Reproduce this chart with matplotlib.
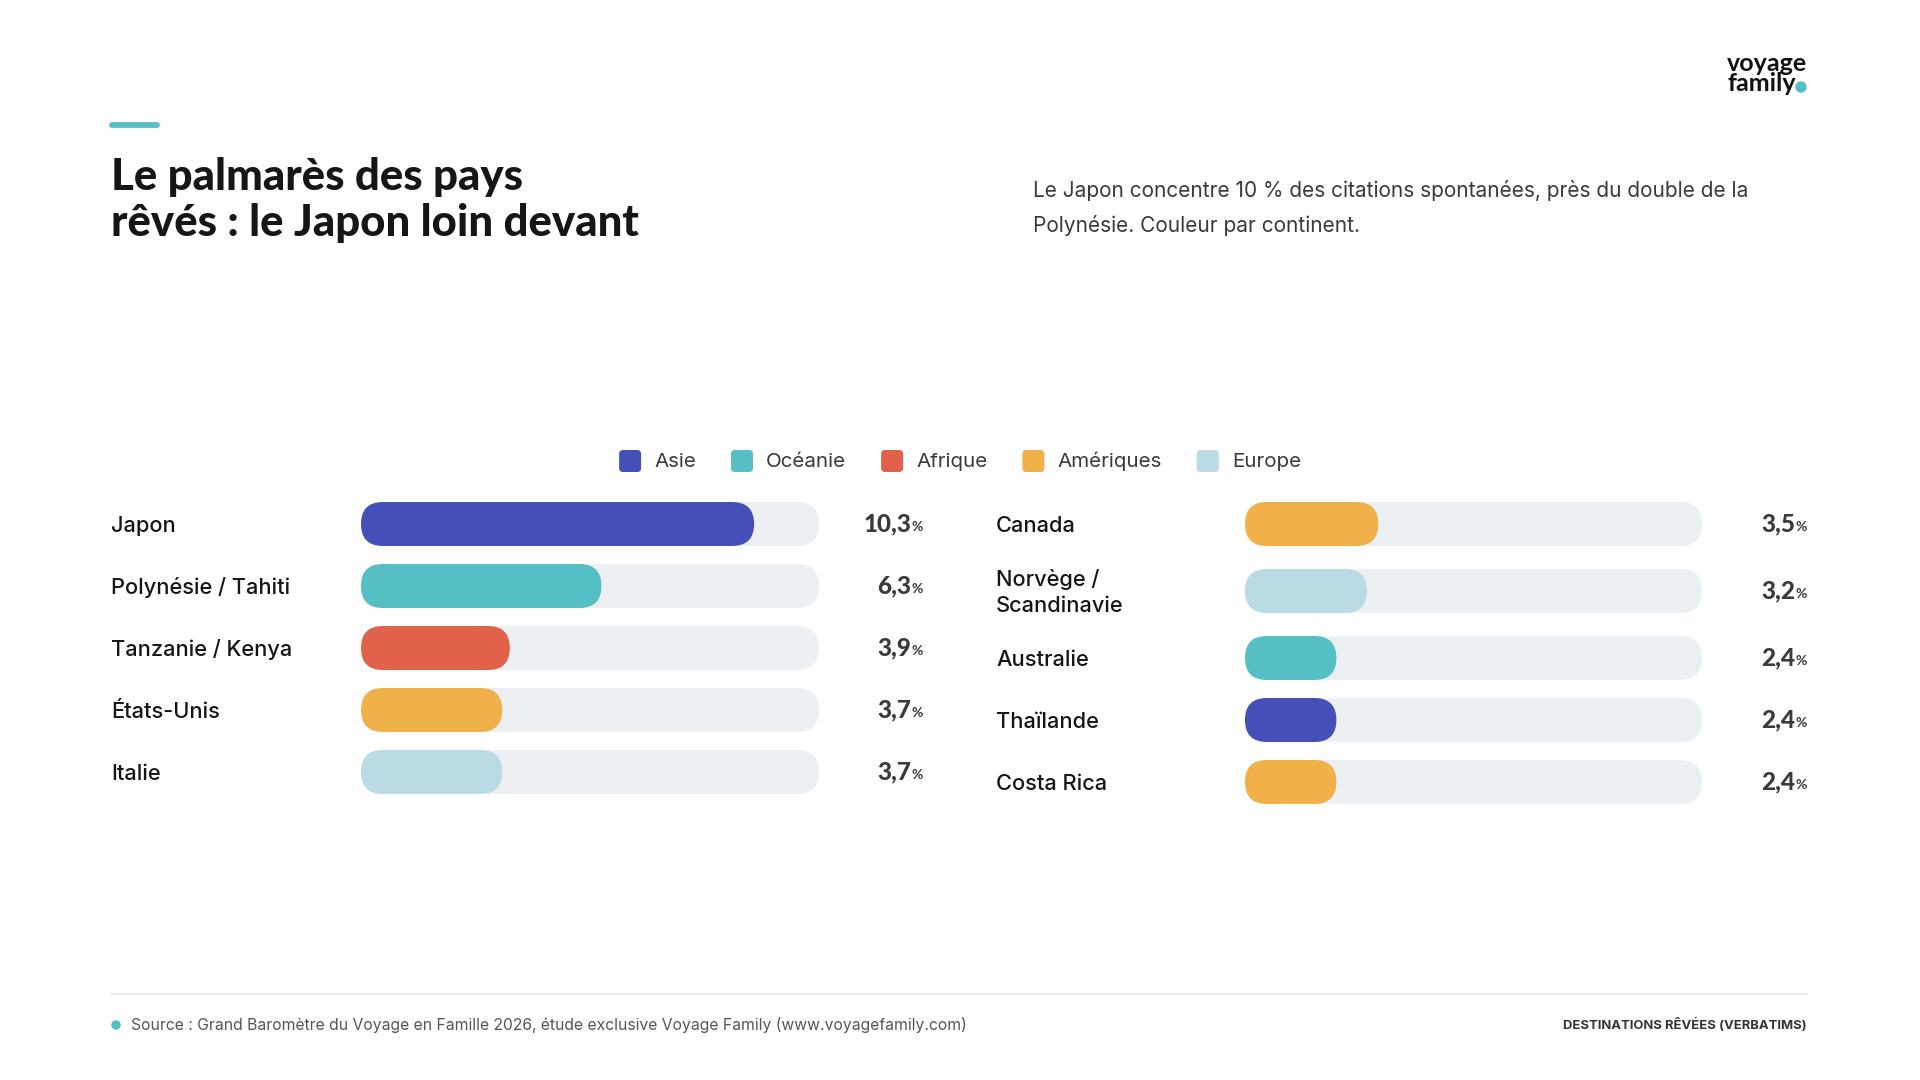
import matplotlib
matplotlib.use("Agg")
import matplotlib.pyplot as plt
from matplotlib.patches import FancyBboxPatch, Circle

# ---------------- data ----------------
continents = ["Asie", "Océanie", "Afrique", "Amériques", "Europe"]
continent_colors = ["#4450b7", "#55bfc5", "#e2614a", "#f0b04a", "#badbe3"]

left_countries = ["Japon", "Polynésie / Tahiti", "Tanzanie / Kenya", "États-Unis", "Italie"]
left_values = [10.3, 6.3, 3.9, 3.7, 3.7]
left_continents = ["Asie", "Océanie", "Afrique", "Amériques", "Europe"]

right_countries = ["Canada", "Norvège /\nScandinavie", "Australie", "Thaïlande", "Costa Rica"]
right_values = [3.5, 3.2, 2.4, 2.4, 2.4]
right_continents = ["Amériques", "Europe", "Océanie", "Asie", "Amériques"]

scale_max = 12.0

title = "Le palmarès des pays\nrêvés : le Japon loin devant"
subtitle = ("Le Japon concentre 10 % des citations spontanées, près du double de la\n"
            "Polynésie. Couleur par continent.")
source = "Source : Grand Baromètre du Voyage en Famille 2026, étude exclusive Voyage Family (www.voyagefamily.com)"
footer_right = "DESTINATIONS RÊVÉES (VERBATIMS)"

# ---------------- style ----------------
FONT = "Lato"
BODY = ["Inter", "DejaVu Sans"]
plt.rcParams["font.family"] = [FONT, "DejaVu Sans"]
W, H = 1920, 1080
TEAL = "#55bfc5"
TRACK = "#edf0f3"
DARK = "#161616"
GREY = "#3a3a3a"

fig = plt.figure(figsize=(W / 100, H / 100), dpi=100)
fig.patch.set_facecolor("white")
ax = fig.add_axes([0, 0, 1, 1])
ax.set_xlim(0, W)
ax.set_ylim(H, 0)
ax.axis("off")

# accent line
ax.plot([112, 157], [124.5, 124.5], color=TEAL, lw=4.2, solid_capstyle="round")

# title
for i, line in enumerate(title.split("\n")):
    ax.text(111, 190 + i * 46, line, fontsize=31.5, fontweight="black",
            color=DARK, ha="left", va="baseline")

# subtitle
for i, line in enumerate(subtitle.split("\n")):
    ax.text(1033, 197 + i * 35, line, fontsize=15, color=GREY, family=BODY,
            ha="left", va="baseline")

# logo
ax.text(1727, 71, "voyage", fontsize=18, fontweight="bold", color="#111111",
        ha="left", va="baseline")
ax.text(1727, 91, "family", fontsize=18, fontweight="bold", color="#111111",
        ha="left", va="baseline")
ax.add_patch(Circle((1801, 87), 5, color=TEAL, zorder=3))

# legend (centred on figure)
fig.canvas.draw()
renderer = fig.canvas.get_renderer()
sq, gap_txt, gap_item = 22, 13, 35
leg_fs = 14.8
widths = []
for name in continents:
    t = ax.text(0, 0, name, fontsize=leg_fs, family=BODY)
    widths.append(t.get_window_extent(renderer).width)
    t.remove()
total = sum(sq + gap_txt + w for w in widths) + gap_item * (len(continents) - 1)
x = W / 2 - total / 2
leg_y = 461
for name, col, w in zip(continents, continent_colors, widths):
    ax.add_patch(FancyBboxPatch((x, leg_y - sq / 2), sq, sq,
                                boxstyle="round,pad=0,rounding_size=4",
                                facecolor=col, edgecolor="none"))
    ax.text(x + sq + gap_txt, leg_y + 6, name, fontsize=leg_fs, color=GREY,
            family=BODY, ha="left", va="baseline")
    x += sq + gap_txt + w + gap_item

# bar columns
bar_h = 44
line_h = 27
row_gap = 18
first_center = 524


def row_centers(labels):
    centers = []
    y = first_center
    prev_h = None
    for lab in labels:
        h = max(bar_h, line_h * len(lab.split("\n")))
        if prev_h is not None:
            y += prev_h / 2 + row_gap + h / 2
        centers.append(y)
        prev_h = h
    return centers


def draw_column(labels, values, conts, label_x, track_l, track_r, value_r):
    track_w = track_r - track_l
    bax = fig.add_axes([track_l / W, 0, track_w / W, 1])
    bax.set_xlim(0, scale_max)
    bax.set_ylim(H, 0)
    bax.axis("off")
    aspect = track_w / scale_max
    r = (bar_h / 2) / aspect
    style = f"round,pad=0,rounding_size={r}"
    centers = row_centers(labels)
    for lab, v, c, yc in zip(labels, values, conts, centers):
        col = continent_colors[continents.index(c)]
        bax.add_patch(FancyBboxPatch((0, yc - bar_h / 2), scale_max, bar_h,
                                     boxstyle=style, mutation_aspect=aspect,
                                     facecolor=TRACK, edgecolor="none"))
        bax.add_patch(FancyBboxPatch((0, yc - bar_h / 2), v, bar_h,
                                     boxstyle=style, mutation_aspect=aspect,
                                     facecolor=col, edgecolor="none", zorder=3))
        lines = lab.split("\n")
        n = len(lines)
        for i, ln in enumerate(lines):
            ax.text(label_x, yc + 8 + (i - (n - 1) / 2) * line_h, ln, fontsize=15.7,
                    fontweight="medium", family=BODY, color=DARK,
                    ha="left", va="baseline")
        pct = ax.text(value_r, yc + 7, "%", fontsize=10, fontweight="bold",
                      color=GREY, ha="right", va="baseline")
        ax.annotate(f"{v:.1f}".replace(".", ","), xy=(0, yc + 7),
                    xycoords=(pct, "data"), fontsize=17.5, fontweight="black",
                    color=GREY, ha="right", va="baseline")


draw_column(left_countries, left_values, left_continents, 111, 361, 819, 923)
draw_column(right_countries, right_values, right_continents, 996, 1245, 1702, 1807)

# footer
ax.plot([111, 1807], [994, 994], color="#e6e8ea", lw=1.2)
ax.add_patch(Circle((116, 1025), 4, color=TEAL))
ax.text(131, 1030, source, fontsize=11.3, color="#555555", family=BODY,
        ha="left", va="baseline")
ax.text(1807, 1029, footer_right, fontsize=9.4, fontweight="bold", color="#333333",
        family=BODY, ha="right", va="baseline")

fig.savefig("out.png", dpi=100, facecolor="white")
